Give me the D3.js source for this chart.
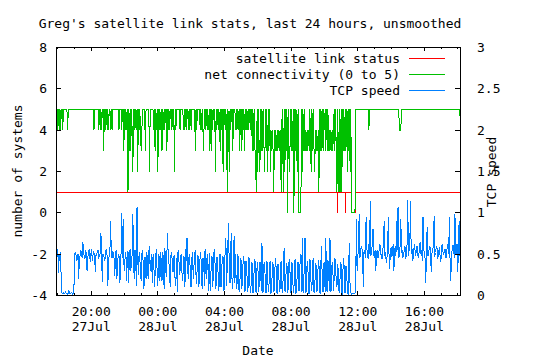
<!DOCTYPE html>
<html><head><meta charset="utf-8">
<script src="https://cdn.jsdelivr.net/npm/d3@7"></script>
<style>
html,body{margin:0;padding:0;background:#fff;}
svg{display:block;}
text{font-family:"DejaVu Sans Mono",monospace;font-size:13px;fill:#000;}
</style></head><body>
<svg id="chart" width="540" height="360"></svg>
<script>
// ---------------- data ----------------
const chartTitle = "Greg's satellite link stats, last 24 hours, unsmoothed";
const seriesNames = ["satellite link status", "net connectivity (0 to 5)", "TCP speed"];
const seriesColors = ["#ff0000", "#00c000", "#0080ff"];
const xLabel = "Date";
const yLabel = "number of systems";
const y2Label = "TCP speed";

const sampleStart = "2009-07-27 17:55";
const sampleStepSeconds = 150;
const xDomain = ["2009-07-27 17:55", "2009-07-28 18:10"];
const xMajorTicks = ["2009-07-27 20:00", "2009-07-28 00:00", "2009-07-28 04:00",
                     "2009-07-28 08:00", "2009-07-28 12:00", "2009-07-28 16:00"];
const yTicks = [-4, -2, 0, 2, 4, 6, 8];
const y2Ticks = [0, 0.5, 1, 1.5, 2, 2.5, 3];

// satellite link status (left axis): minute offsets from sampleStart and values
const statusMinutes = [0, 1011, 1012, 1013, 1040, 1041, 1042, 1062, 1063, 1077, 1078, 1455];
const statusValues  = [1, 1, 0, 1, 1, 0, 1, 1, 0, 0, 1, 1];

// net connectivity (left axis), one value per 2.5-minute sample
const connectivity = [
 5,5,4,5,4,5,4,5,5,4,5,5,5,5,5,5,4,5,5,5,
 5,5,5,5,5,5,5,5,5,5,5,5,5,5,5,5,5,5,5,5,
 5,5,5,5,5,5,5,5,5,5,5,5,5,5,4,5,5,5,5,5,
 5,4,5,4,5,4,5,5,3,5,5,4,5,4,5,4,5,5,4,5,
 4,5,5,5,5,5,5,5,5,5,4,5,5,5,4,5,5,3,5,4,
 5,4,5,1,5,3,5,3,5,4,2,5,5,4,5,4,5,2,5,4,
 5,4,3,4,5,5,5,5,3,5,5,5,5,5,2,5,5,5,5,5,
 4,5,3,5,4,5,2,5,4,5,4,5,3,5,4,5,4,5,5,3,
 5,4,5,4,5,5,4,5,4,5,2,5,4,5,5,5,5,5,4,5,
 5,5,5,4,5,4,5,4,5,5,4,5,4,5,4,5,5,5,5,5,
 3,5,4,5,5,5,5,4,5,4,5,4,3,5,4,5,5,4,5,4,
 5,3,5,3,5,4,5,5,5,2,5,4,5,4,5,4,3,5,4,5,
 2,5,5,4,5,4,1,5,4,2,5,4,5,5,3,5,5,5,4,5,
 4,5,4,5,3,5,5,3,5,4,5,3,5,4,5,4,5,4,5,5,
 4,5,3,5,3,5,3,2,1,5,2,5,3,2,5,3,5,3,5,3,
 2,5,3,5,2,5,3,5,2,4,3,4,3,1,4,3,4,3,4,3,
 4,3,4,2,1,5,3,1,5,2,5,3,5,0,5,3,2,5,3,5,
 3,5,0,5,3,5,3,2,5,0,0,0,0,5,2,5,3,5,3,4,
 3,4,3,4,3,5,3,2,5,3,5,3,2,4,3,4,3,4,1,5,
 3,5,3,5,3,5,4,5,3,5,3,5,3,4,3,4,3,4,3,4,
 5,3,5,3,1,5,3,1,5,1,5,1,5,3,5,3,5,3,5,2,
 5,3,5,2,5,0,0,0,0,0,0,5,5,5,5,5,5,5,5,5,
 5,5,5,5,5,5,5,5,5,5,4,5,5,5,5,5,5,5,5,5,
 5,5,5,5,5,5,5,5,5,5,5,5,5,5,5,5,5,5,5,5,
 5,5,5,5,5,5,5,5,5,5,5,5,5,5,4,4,4,5,5,5,
 5,5,5,5,5,5,5,5,5,5,5,5,5,5,5,5,5,5,5,5,
 5,5,5,5,5,5,5,5,5,5,5,5,5,5,5,5,5,5,5,5,
 5,5,5,5,5,5,5,5,5,5,5,5,5,5,5,5,5,5,5,5,
 5,5,5,5,5,5,5,5,5,5,5,5,5,5,5,5,5,5,5,5,
 5,5,4
];

// TCP speed (right axis), one value per 2.5-minute sample
const tcpSpeed = [
 .52,.47,.56,.27,.50,.45,.53,.04,.03,.02,.03,.02,.03,.04,.02,.03,.02,.03,.06,.03,
 .02,.03,.04,.02,.03,.03,.47,.53,.50,.42,.44,.50,.20,.46,.48,.55,.52,.45,.65,.50,
 .48,.44,.55,.50,.30,.47,.50,.56,.46,.40,.56,.49,.42,.53,.52,.45,.28,.51,.49,.55,
 .55,.46,.47,.52,.75,.48,.16,.50,.50,.43,.44,.54,.56,.47,.12,.45,.48,.55,.90,.47,
 .46,.53,.52,.44,.24,.50,.55,.20,.40,.48,.50,.15,.22,.52,1.00,.45,.93,.40,.30,.50,
 .52,.18,.45,.54,.15,.48,.56,.30,.38,.50,.99,.42,.20,.55,.50,.12,1.07,.45,.25,.52,
 .48,.25,.18,.50,.55,.35,.08,.47,.45,.20,.52,.44,.20,.53,.60,.30,.42,.50,.15,.46,
 .50,.10,.25,.48,.56,.28,.12,.50,.47,.18,.53,.40,.18,.52,.45,.08,.58,.44,.22,.50,
 .75,.45,.40,.20,.10,.50,.52,.35,.28,.47,.48,.12,.15,.45,.04,.52,.55,.25,.30,.48,
 .50,.22,.18,.47,.46,.10,.56,.42,.69,.30,.20,.50,.48,.14,.10,.45,.52,.20,.35,.50,
 .55,.25,.14,.48,.47,.10,.22,.52,.50,.18,.08,.45,.45,.12,.56,.30,.20,.50,.40,.06,
 .52,.15,.06,.46,.48,.10,.25,.55,.56,.08,.12,.47,.45,.20,.05,.50,.50,.10,.30,.48,
 .46,.05,.10,.60,.70,.12,.35,.65,.88,.20,.15,.60,.76,.10,.08,.55,.72,.15,.50,.08,
 .12,.50,.45,.04,.05,.45,.42,.08,.20,.46,.48,.05,.06,.42,.40,.04,.10,.45,.44,.03,
 .04,.40,.38,.03,.08,.44,.42,.05,.03,.38,.40,.04,.12,.41,.36,.06,.63,.03,.05,.40,
 .40,.05,.03,.42,.35,.04,.10,.39,.42,.03,.04,.40,.38,.05,.06,.43,.45,.04,.03,.37,
 .37,.04,.08,.40,.41,.03,.04,.45,.57,.06,.05,.38,.39,.03,.10,.42,.43,.05,.03,.40,
 .36,.04,.05,.41,.44,.03,.04,.38,.40,.05,.08,.45,.50,.04,.69,.06,.03,.42,.69,.04,
 .05,.40,.41,.03,.03,.44,.38,.05,.10,.40,.45,.03,.04,.39,.36,.05,.06,.41,.42,.04,
 .03,.42,.60,.05,.05,.38,.40,.04,.69,.07,.04,.43,.37,.05,.69,.04,.08,.40,.35,.06,
 .20,.45,.42,.15,.10,.38,.30,.06,.03,.40,.38,.03,.02,.42,.45,.04,.04,.36,.33,.03,
 .02,.40,.63,.05,.03,.02,.03,.02,.02,.03,.03,.04,.93,.30,.48,.55,.98,.45,.52,.60,
 .58,.48,.10,.52,.55,.45,.95,.58,.50,.44,.62,.50,1.14,.48,.55,.62,.81,.50,.45,.55,
 .30,.50,.55,.45,.48,.58,.62,.50,.50,.44,.56,.60,.90,.48,.52,.40,.45,.56,.95,.50,
 .32,.55,.58,.47,.50,.62,.30,.52,.60,.48,.90,.55,1.07,.45,.50,.60,.92,.52,.55,.46,
 .48,.56,.60,.44,.50,.62,1.16,.48,.55,.60,1.14,.50,.58,.42,.45,.57,.62,.48,.52,.60,
 .58,.45,.48,.62,.65,.50,.55,.42,.95,.56,.50,.45,.15,.55,.83,.48,.50,.58,.60,.44,
 .28,.52,.55,.60,.96,.47,.52,.58,.60,.44,.48,.55,.58,.40,.45,.60,.62,.50,.50,.56,
 .56,.45,.48,.62,.60,.50,.95,.40,.18,.52,.55,.60,.60,.45,.99,.50,.50,.62,.28,.55,
 .90,.48,.62
];

// ---------------- drawing ----------------
const parse = d3.timeParse("%Y-%m-%d %H:%M");
const t0 = parse(sampleStart);
const svg = d3.select("#chart");
const L = 56, R = 460, T = 47, B = 295;

const x = d3.scaleTime().domain(xDomain.map(parse)).range([L, R]);
const y = d3.scaleLinear().domain([-4, 8]).range([B, T]);
const y2 = d3.scaleLinear().domain([0, 3]).range([B, T]);

const sampleTime = i => d3.timeSecond.offset(t0, i * sampleStepSeconds);
const statusData = statusMinutes.map((m, i) => [d3.timeMinute.offset(t0, m), statusValues[i]]);
const connData = connectivity.map((v, i) => [sampleTime(i), v]);
const tcpData = tcpSpeed.map((v, i) => [sampleTime(i), v]);

svg.append("defs").append("clipPath").attr("id", "clip")
  .append("rect").attr("x", L).attr("y", T).attr("width", R - L + 1).attr("height", B - T + 1);

const plot = svg.append("g").attr("clip-path", "url(#clip)");
const lineL = d3.line().x(d => x(d[0]) + 0.5).y(d => y(d[1]) + 0.5);
const lineR = d3.line().x(d => x(d[0]) + 0.5).y(d => y2(d[1]) + 0.5);

plot.append("path").datum(statusData).attr("d", lineL)
  .attr("fill", "none").attr("stroke", seriesColors[0]).attr("stroke-width", 1).attr("shape-rendering", "crispEdges");
plot.append("path").datum(connData).attr("d", lineL)
  .attr("fill", "none").attr("stroke", seriesColors[1]).attr("stroke-width", 1).attr("shape-rendering", "crispEdges");
plot.append("path").datum(tcpData).attr("d", lineR)
  .attr("fill", "none").attr("stroke", seriesColors[2]).attr("stroke-width", 1).attr("shape-rendering", "crispEdges");

// axes ticks (inward)
const majorT = xMajorTicks.map(parse);
const minorT = d3.timeHour.range(x.domain()[0], x.domain()[1]);
const noDomain = g => { g.select(".domain").remove(); g.selectAll("text").remove(); g.attr("color", "#000"); };
svg.append("g").attr("transform", `translate(0,${B})`).call(d3.axisBottom(x).tickValues(minorT).tickSize(-2).tickFormat("")).call(noDomain);
svg.append("g").attr("transform", `translate(0,${B})`).call(d3.axisBottom(x).tickValues(majorT).tickSize(-4).tickFormat("")).call(noDomain);
svg.append("g").attr("transform", `translate(0,${T})`).call(d3.axisTop(x).tickValues(minorT).tickSize(-2).tickFormat("")).call(noDomain);
svg.append("g").attr("transform", `translate(0,${T})`).call(d3.axisTop(x).tickValues(majorT).tickSize(-4).tickFormat("")).call(noDomain);
svg.append("g").attr("transform", `translate(${L},0)`).call(d3.axisLeft(y).tickValues(yTicks).tickSize(-5).tickFormat("")).call(noDomain);
svg.append("g").attr("transform", `translate(${R},0)`).call(d3.axisRight(y2).tickValues(y2Ticks).tickSize(-5).tickFormat("")).call(noDomain);
svg.selectAll(".tick line").attr("shape-rendering", "crispEdges");

// border
svg.append("rect").attr("x", L + 0.5).attr("y", T + 0.5).attr("width", R - L).attr("height", B - T)
  .attr("fill", "none").attr("stroke", "#000").attr("stroke-width", 1).attr("shape-rendering", "crispEdges");

// tick labels
svg.append("g").selectAll("text").data(yTicks).join("text")
  .attr("x", 47).attr("y", d => y(d) + 5).attr("text-anchor", "end").text(d => d);
svg.append("g").selectAll("text").data(y2Ticks).join("text")
  .attr("x", 477).attr("y", d => y2(d) + 5).attr("text-anchor", "start").text(d => d);
const fTime = d3.timeFormat("%H:%M"), fDay = d3.timeFormat("%d%b");
const xl = svg.append("g").selectAll("text").data(majorT).join("text").attr("text-anchor", "middle");
xl.append("tspan").attr("x", d => x(d) + 0.5).attr("y", 316).text(d => fTime(d));
xl.append("tspan").attr("x", d => x(d) + 0.5).attr("y", 331).text(d => fDay(d));

// titles
svg.append("text").attr("x", 250).attr("y", 28).attr("text-anchor", "middle").text(chartTitle);
svg.append("text").attr("x", 258).attr("y", 355).attr("text-anchor", "middle").text(xLabel);
svg.append("text").attr("transform", "translate(22,171) rotate(-90)").attr("text-anchor", "middle").text(yLabel);
svg.append("text").attr("transform", "translate(496,172) rotate(-90)").attr("text-anchor", "middle").text(y2Label);

// legend
const lg = svg.append("g");
seriesNames.forEach((name, i) => {
  const ly = 58 + i * 16;
  lg.append("text").attr("x", 400).attr("y", ly + 4.5).attr("text-anchor", "end").text(name);
  lg.append("line").attr("x1", 409).attr("x2", 445).attr("y1", ly + 0.5).attr("y2", ly + 0.5)
    .attr("stroke", seriesColors[i]).attr("stroke-width", 1).attr("shape-rendering", "crispEdges");
});
</script>
</body></html>
